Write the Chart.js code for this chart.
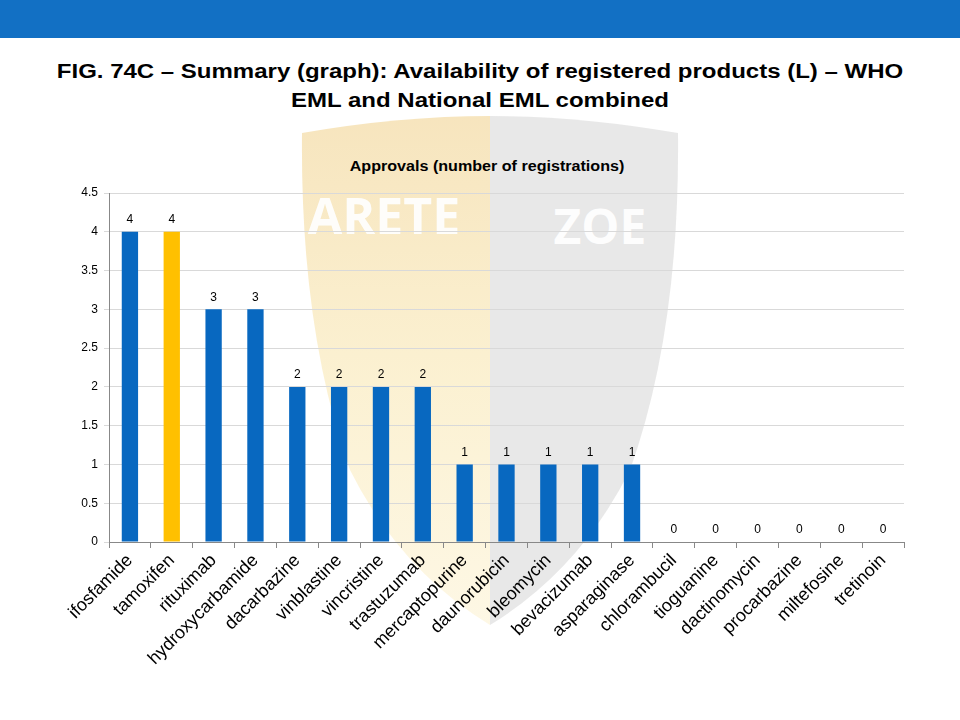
<!DOCTYPE html>
<html>
<head>
<meta charset="utf-8">
<script src="https://cdn.jsdelivr.net/npm/chart.js@4"></script>
<style>
  html,body{margin:0;padding:0;background:#fff;}
  body{width:960px;height:720px;position:relative;overflow:hidden;font-family:"Liberation Sans",Arial,sans-serif;}
  #band{position:absolute;left:0;top:0;width:960px;height:38px;background:#1270c4;}
  #title{position:absolute;left:0;top:57px;width:960px;text-align:center;font-weight:bold;font-size:20px;line-height:29px;color:#000;transform:scaleX(1.2);transform-origin:480px 0;}
  #mark{position:absolute;left:0;top:0;width:960px;height:720px;}
  #sub{position:absolute;left:0;top:158px;width:974px;text-align:center;font-weight:bold;font-size:14px;color:#000;transform:scaleX(1.15);transform-origin:487px 0;}
  #wrap{position:absolute;left:0;top:150px;width:960px;height:570px;}
</style>
</head>
<body>
<div id="band"></div>
<svg id="mark" viewBox="0 0 960 720">
  <defs>
    <linearGradient id="gl" x1="0" y1="0" x2="0" y2="1">
      <stop offset="0" stop-color="#f4dca8"/>
      <stop offset="0.5" stop-color="#faecc2"/>
      <stop offset="1" stop-color="#fdf5dc"/>
    </linearGradient>
  </defs>
  <path d="M490,116 Q400,116 302,133 Q300,330 350,470 Q400,570 490,625 Z" fill="url(#gl)" opacity="0.75"/>
  <path d="M490,116 Q580,116 678,133 Q680,330 630,470 Q580,570 490,625 Z" fill="#d8d8d8" opacity="0.6"/>
  <text x="384" y="234" text-anchor="middle" font-family="Open Sans, sans-serif" font-weight="bold" font-size="50" fill="#fff" opacity="0.92">ARETE</text>
  <text x="600" y="244" text-anchor="middle" font-family="Open Sans, sans-serif" font-weight="bold" font-size="48" fill="#fff" opacity="0.92">ZOE</text>
</svg>
<div id="title">FIG. 74C – Summary (graph): Availability of registered products (L) – WHO<br>EML and National EML combined</div>
<div id="sub">Approvals (number of registrations)</div>
<div id="wrap"><canvas id="c"></canvas></div>
<script>
var drugs = ['ifosfamide','tamoxifen','rituximab','hydroxycarbamide','dacarbazine','vinblastine','vincristine','trastuzumab','mercaptopurine','daunorubicin','bleomycin','bevacizumab','asparaginase','chlorambucil','tioguanine','dactinomycin','procarbazine','miltefosine','tretinoin'];
var approvals = [4,4,3,3,2,2,2,2,1,1,1,1,1,0,0,0,0,0,0];
var yTicks = [0,0.5,1,1.5,2,2.5,3,3.5,4,4.5];
var BLUE = '#0868c0', GOLD = '#ffc000';
var barColors = drugs.map(function(d){ return d==='tamoxifen' ? GOLD : BLUE; });

// value labels above each bar (zeros included)
var valueLabels = {
  id:'valueLabels',
  afterDatasetsDraw:function(chart){
    var ctx=chart.ctx, meta=chart.getDatasetMeta(0);
    ctx.save();
    ctx.font='12px "Liberation Sans", Arial, sans-serif';
    ctx.fillStyle='#000'; ctx.textAlign='center'; ctx.textBaseline='bottom';
    meta.data.forEach(function(bar,i){ ctx.fillText(String(approvals[i]), bar.x, bar.y-6); });
    ctx.restore();
  }
};

new Chart(document.getElementById('c'), {
  type:'bar',
  data:{ labels:drugs, datasets:[{ data:approvals, backgroundColor:barColors, barPercentage:0.78, categoryPercentage:0.5 }] },
  options:{
    responsive:true, maintainAspectRatio:false, animation:false,
    layout:{ padding:{ top:43, right:56, left:0, bottom:0 } },
    plugins:{ legend:{display:false}, tooltip:{enabled:false} },
    scales:{
      x:{
        grid:{ display:true, drawOnChartArea:false, offset:true, color:'#888', tickLength:6 },
        border:{ color:'#888' },
        ticks:{ color:'#000', font:{ family:'"Liberation Sans", Arial, sans-serif', size:18 }, minRotation:45, maxRotation:45, autoSkip:false, padding:2 },
        afterFit:function(s){ s.height = 178; }
      },
      y:{
        min:0, max:4.5,
        afterBuildTicks:function(s){ s.ticks = yTicks.map(function(v){ return {value:v}; }); },
        grid:{ color:'#d9d9d9', tickLength:5, drawTicks:true },
        border:{ color:'#888' },
        ticks:{ color:'#000', font:{ family:'"Liberation Sans", Arial, sans-serif', size:12 }, padding:6,
          callback:function(v){ return String(v); } },
        afterFit:function(s){ s.width = 109; }
      }
    }
  },
  plugins:[valueLabels]
});
</script>
</body>
</html>
